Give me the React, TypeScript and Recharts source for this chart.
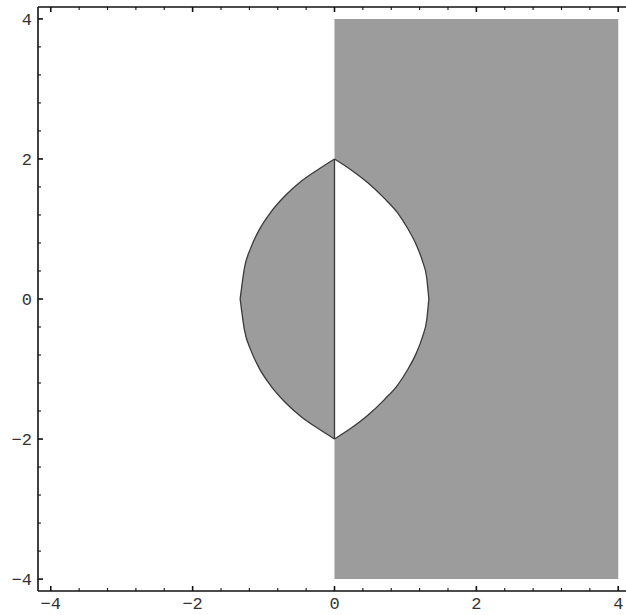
import React from "react";
import {
  ComposedChart,
  Area,
  XAxis,
  YAxis,
  ReferenceLine,
} from "recharts";

// tick values (major carry labels, minor are bare marks)
const majorTicks = [-4, -2, 0, 2, 4];
const minorTicks = [
  -3.6, -3.2, -2.8, -2.4, -1.6, -1.2, -0.8, -0.4,
  0.4, 0.8, 1.2, 1.6, 2.4, 2.8, 3.2, 3.6,
];

// left lens (shaded)
const leftX = [-1.33, -1.31, -1.27, -1.18, -1.06, -0.89, -0.7, -0.47, -0.23, 0];
const leftTop = [0, 0.16, 0.44, 0.73, 0.99, 1.25, 1.47, 1.68, 1.85, 2];
const leftBottom = [0, -0.16, -0.44, -0.73, -0.99, -1.25, -1.47, -1.68, -1.85, -2];

// right lens (white hole in the half plane)
const rightX = [0, 0.24, 0.47, 0.7, 0.89, 1.03, 1.15, 1.24, 1.3, 1.33];
const rightTop = [2, 1.84, 1.66, 1.44, 1.23, 1.01, 0.78, 0.54, 0.3, 0];
const rightBottom = [-2, -1.84, -1.66, -1.44, -1.23, -1.01, -0.78, -0.54, -0.3, 0];

// shaded half plane x >= 0
const planeX = [0, 4];
const planeLow = [-4, -4];
const planeHigh = [4, 4];

type Row = {
  x: number;
  left?: [number, number];
  right?: [number, number];
  plane?: [number, number];
};

const rowsByX = new Map<number, Row>();
const rowAt = (x: number) => {
  if (!rowsByX.has(x)) rowsByX.set(x, { x });
  return rowsByX.get(x)!;
};
leftX.forEach((x, i) => (rowAt(x).left = [leftBottom[i], leftTop[i]]));
rightX.forEach((x, i) => (rowAt(x).right = [rightBottom[i], rightTop[i]]));
planeX.forEach((x, i) => (rowAt(x).plane = [planeLow[i], planeHigh[i]]));
const data = Array.from(rowsByX.values()).sort((a, b) => a.x - b.x);

const allTicks = [...majorTicks, ...minorTicks].sort((a, b) => a - b);
const DOMAIN_X: [number, number] = [-4.18, 4.18];
const DOMAIN_Y: [number, number] = [-4.17, 4.17];
const SHADE = "#9c9c9c";
const EDGE = "#3a3a3a";
const FONT = "'Liberation Mono', 'DejaVu Sans Mono', monospace";

const fmt = (v: number) => (v < 0 ? `\u2212${Math.abs(v)}` : `${v}`);

function FrameTick(props: any) {
  const { x, y, payload, side } = props;
  const v = payload.value as number;
  const major = majorTicks.includes(v);
  const len = major ? 5 : 3;
  const sw = major ? 1.6 : 1.1;
  let line;
  let label = null;
  if (side === "bottom") {
    line = <line x1={x} y1={y} x2={x} y2={y - len} stroke="#111" strokeWidth={sw} />;
    if (major)
      label = (
        <text x={x} y={y + 18} textAnchor="middle" fontSize={17} fontFamily={FONT} fill="#333">
          {fmt(v)}
        </text>
      );
  } else if (side === "top") {
    line = <line x1={x} y1={y} x2={x} y2={y + len} stroke="#111" strokeWidth={sw} />;
  } else if (side === "left") {
    line = <line x1={x} y1={y} x2={x + len} y2={y} stroke="#111" strokeWidth={sw} />;
    if (major)
      label = (
        <text x={x - 6} y={y + 6} textAnchor="end" fontSize={17} fontFamily={FONT} fill="#333">
          {fmt(v)}
        </text>
      );
  } else {
    line = <line x1={x} y1={y} x2={x - len} y2={y} stroke="#111" strokeWidth={sw} />;
  }
  return (
    <g>
      {line}
      {label}
    </g>
  );
}

export default function App() {
  return (
    <div
      style={{
        position: "absolute",
        left: 0,
        top: 0,
        width: 626,
        height: 615,
        overflow: "hidden",
        background: "white",
      }}
    >
      <ComposedChart
        width={660}
        height={615}
        data={data}
        margin={{ top: 5, right: 19, left: 8, bottom: 0 }}
      >
        <XAxis
          dataKey="x"
          type="number"
          domain={DOMAIN_X}
          ticks={allTicks}
          interval={0}
          allowDataOverflow
          height={24}
          tickSize={0}
          tickMargin={0}
          tickLine={false}
          axisLine={{ stroke: "#111", strokeWidth: 1.6 }}
          tick={(p: any) => <FrameTick {...p} side="bottom" />}
        />
        <XAxis
          xAxisId="top"
          orientation="top"
          dataKey="x"
          type="number"
          domain={DOMAIN_X}
          ticks={allTicks}
          interval={0}
          allowDataOverflow
          height={2}
          tickSize={0}
          tickMargin={0}
          tickLine={false}
          axisLine={{ stroke: "#111", strokeWidth: 1.6 }}
          tick={(p: any) => <FrameTick {...p} side="top" />}
        />
        <YAxis
          type="number"
          domain={DOMAIN_Y}
          ticks={allTicks}
          interval={0}
          allowDataOverflow
          width={30}
          tickSize={0}
          tickMargin={0}
          tickLine={false}
          axisLine={{ stroke: "#111", strokeWidth: 1.6 }}
          tick={(p: any) => <FrameTick {...p} side="left" />}
        />
        <YAxis
          yAxisId="right"
          orientation="right"
          type="number"
          domain={DOMAIN_Y}
          ticks={allTicks}
          interval={0}
          allowDataOverflow
          width={10}
          tickSize={0}
          tickMargin={0}
          tickLine={false}
          axisLine={{ stroke: "#111", strokeWidth: 1.6 }}
          tick={(p: any) => <FrameTick {...p} side="right" />}
        />
        <Area
          dataKey="plane"
          type="linear"
          connectNulls
          fill={SHADE}
          fillOpacity={1}
          stroke="none"
          isAnimationActive={false}
          dot={false}
          activeDot={false}
        />
        <Area
          dataKey="right"
          type="monotone"
          fill="#ffffff"
          fillOpacity={1}
          stroke={EDGE}
          strokeWidth={1.3}
          isAnimationActive={false}
          dot={false}
          activeDot={false}
        />
        <Area
          dataKey="left"
          type="monotone"
          fill={SHADE}
          fillOpacity={1}
          stroke={EDGE}
          strokeWidth={1.3}
          isAnimationActive={false}
          dot={false}
          activeDot={false}
        />
        <ReferenceLine
          segment={[
            { x: 0, y: -2 },
            { x: 0, y: 2 },
          ]}
          stroke={EDGE}
          strokeWidth={1.3}
        />
      </ComposedChart>
    </div>
  );
}
